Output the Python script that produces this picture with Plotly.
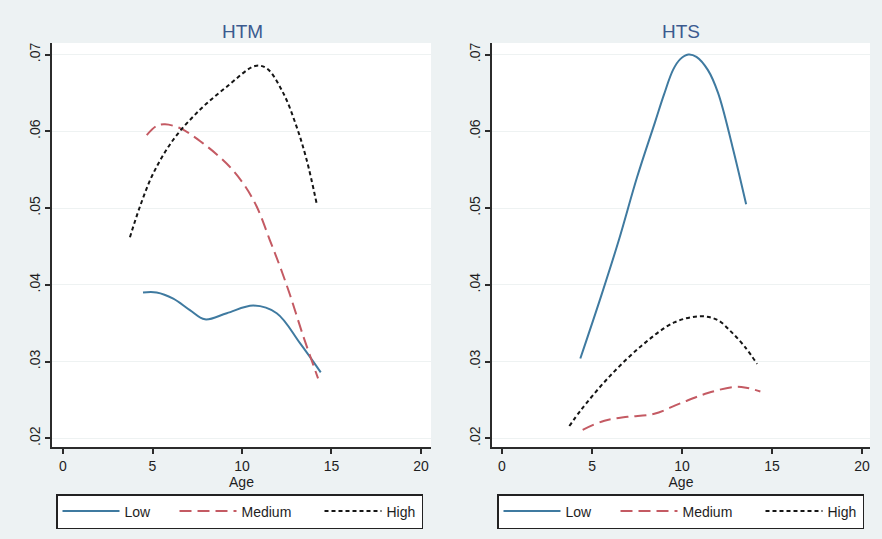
import plotly.graph_objects as go

# Predicted rates by age, HTM panel
htm_low_age = [4.47, 5.23, 6.16, 7.09, 7.93, 9.15, 10.64, 11.94, 13.24, 14.40]
htm_low_val = [0.0390, 0.0390, 0.0382, 0.0367, 0.0355, 0.0363, 0.0373, 0.0363, 0.0324, 0.0286]

htm_med_age = [4.68, 5.23, 5.70, 6.54, 7.84, 9.14, 10.07, 10.82, 11.56, 12.12, 12.68, 13.41, 14.25]
htm_med_val = [0.0595, 0.0607, 0.0609, 0.0604, 0.0584, 0.0558, 0.0532, 0.0502, 0.0458, 0.0424, 0.0387, 0.0334, 0.0278]

htm_high_age = [3.74, 4.30, 5.04, 6.16, 7.65, 9.15, 10.73, 11.38, 12.30, 13.05, 13.61, 14.17]
htm_high_val = [0.0462, 0.0502, 0.0545, 0.0589, 0.0628, 0.0658, 0.0685, 0.0682, 0.0650, 0.0606, 0.0563, 0.0506]

# Predicted rates by age, HTS panel
hts_low_age = [4.35, 5.50, 6.50, 7.50, 8.50, 9.00, 9.50, 9.90, 10.35, 10.80, 11.43, 12.00, 12.80, 13.56]
hts_low_val = [0.0304, 0.0385, 0.0459, 0.0540, 0.0612, 0.0648, 0.0680, 0.0694, 0.0700, 0.0697, 0.0680, 0.0650, 0.0580, 0.0505]

hts_med_age = [4.48, 5.69, 6.98, 8.46, 9.94, 11.43, 12.91, 13.56, 14.35]
hts_med_val = [0.0211, 0.0223, 0.0228, 0.0232, 0.0246, 0.0259, 0.0267, 0.0266, 0.0261]

hts_high_age = [3.74, 4.39, 5.87, 7.72, 9.57, 11.06, 11.98, 12.72, 13.46, 14.17]
hts_high_val = [0.0216, 0.0237, 0.0278, 0.0320, 0.0351, 0.0359, 0.0354, 0.0339, 0.0320, 0.0297]

panel_titles = ["HTM", "HTS"]
group_names = ["Low", "Medium", "High"]
x_ticks = [0, 5, 10, 15, 20]
y_ticks = [0.02, 0.03, 0.04, 0.05, 0.06, 0.07]
y_tick_text = [".02", ".03", ".04", ".05", ".06", ".07"]

FONT = "Liberation Sans, Arial, sans-serif"
TEXT = "#1e1e1e"
styles = [
    dict(color="#3f7aa0", width=2, dash="solid", legendwidth=45),
    dict(color="#c45a63", width=2, dash="12px,6px", legendwidth=73),
    dict(color="#151515", width=2, dash="4px,3px", legendwidth=30),
]

fig = go.Figure()

panels = [
    ("x", "y", "legend", [(htm_low_age, htm_low_val), (htm_med_age, htm_med_val), (htm_high_age, htm_high_val)]),
    ("x2", "y2", "legend2", [(hts_low_age, hts_low_val), (hts_med_age, hts_med_val), (hts_high_age, hts_high_val)]),
]
for xa, ya, leg, series in panels:
    for name, (ages, vals), st in zip(group_names, series, styles):
        fig.add_trace(go.Scatter(
            x=ages, y=vals, mode="lines", name=name,
            line=dict(color=st["color"], width=st["width"], dash=st["dash"],
                      shape="spline", smoothing=1.0),
            xaxis=xa, yaxis=ya, legend=leg, legendwidth=st["legendwidth"],
            hoverinfo="skip",
        ))

axis_common = dict(
    showline=True, linecolor="#2b2b2b", linewidth=1.5,
    ticks="outside", ticklen=5, tickwidth=1.5, tickcolor="#2b2b2b",
    tickfont=dict(family=FONT, size=14, color=TEXT),
    zeroline=False,
)
x_common = dict(axis_common, tickvals=x_ticks, showgrid=False,
                title=dict(text="Age", font=dict(family=FONT, size=14, color=TEXT), standoff=2))
y_common = dict(axis_common, tickvals=y_ticks, ticktext=y_tick_text, tickangle=-90,
                showgrid=True, gridcolor="#eef2f2", gridwidth=1,
                range=[0.01887, 0.0715])

W, H = 882, 539
fig.update_layout(
    width=W, height=H,
    margin=dict(l=0, r=0, t=0, b=0),
    paper_bgcolor="#edf2f3", plot_bgcolor="#ffffff",
    font=dict(family=FONT, color=TEXT),
    xaxis=dict(x_common, domain=[52 / W, 431 / W], range=[-0.615, 20.56], anchor="y"),
    yaxis=dict(y_common, domain=[1 - 447 / H, 1 - 43 / H], anchor="x"),
    xaxis2=dict(x_common, domain=[492 / W, 870 / W], range=[-0.556, 20.44], anchor="y2"),
    yaxis2=dict(y_common, domain=[1 - 447 / H, 1 - 43 / H], anchor="x2"),
    showlegend=True,
)

legend_common = dict(
    orientation="h", xanchor="left", yanchor="top", y=1 - 494 / H,
    bgcolor="#ffffff", bordercolor="#222222", borderwidth=1.5,
    font=dict(family=FONT, size=14, color=TEXT),
    itemwidth=57, itemclick=False, entrywidthmode="pixels",
)
fig.update_layout(
    legend=dict(legend_common, x=56 / W),
    legend2=dict(legend_common, x=497 / W),
)

for title, cx in zip(panel_titles, [243 / W, 681 / W]):
    fig.add_annotation(
        text=title, x=cx, y=1 - 31 / H, xref="paper", yref="paper",
        xanchor="center", yanchor="middle",
        showarrow=False, font=dict(family=FONT, size=19, color="#3b5a8f"),
    )

fig.write_html("out.html")
